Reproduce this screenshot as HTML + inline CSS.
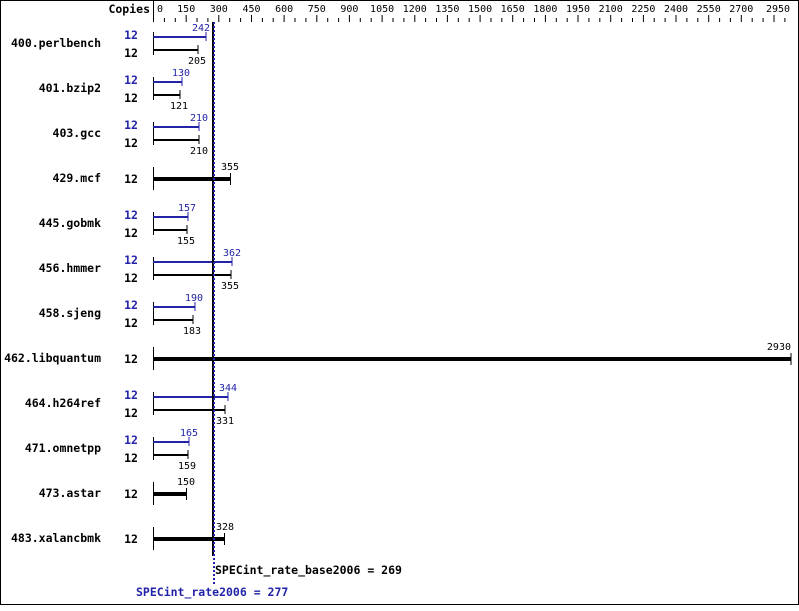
<!DOCTYPE html>
<html><head><meta charset="utf-8"><style>
html,body{margin:0;padding:0;background:#fff}
svg text{font-family:"DejaVu Sans Mono","Liberation Mono",monospace}
.n{font-size:11.5px;font-weight:bold;text-anchor:end}
.c{font-size:11.5px;font-weight:bold;text-anchor:middle}
.v{font-size:10px;text-anchor:middle}
.t{font-size:10px;text-anchor:middle}
.b{fill:#2323a8;stroke:none}
</style></head><body>
<svg width="799" height="606" xmlns="http://www.w3.org/2000/svg">
<rect x="0.5" y="0.5" width="798" height="604" fill="#fff" stroke="#000"/>
<text x="150" y="13" class="n">Copies</text>
<line x1="153.5" y1="0" x2="153.5" y2="22" stroke="#000"/>
<g stroke="#000">
<path d="M164.4 18V22M175.3 18V22M186.2 15V22M197.0 18V22M207.9 18V22M218.8 15V22M229.7 18V22M240.6 18V22M251.5 15V22M262.4 18V22M273.2 18V22M284.1 15V22M295.0 18V22M305.9 18V22M316.8 15V22M327.7 18V22M338.6 18V22M349.4 15V22M360.3 18V22M371.2 18V22M382.1 15V22M393.0 18V22M403.9 18V22M414.8 15V22M425.6 18V22M436.5 18V22M447.4 15V22M458.3 18V22M469.2 18V22M480.1 15V22M491.0 18V22M501.8 18V22M512.7 15V22M523.6 18V22M534.5 18V22M545.4 15V22M556.3 18V22M567.2 18V22M578.0 15V22M588.9 18V22M599.8 18V22M610.7 15V22M621.6 18V22M632.5 18V22M643.4 15V22M654.2 18V22M665.1 18V22M676.0 15V22M686.9 18V22M697.8 18V22M708.7 15V22M719.6 18V22M730.4 18V22M741.3 15V22M752.2 18V22M763.1 18V22M774.0 15V22M784.9 18V22"/>
</g>
<g class="t">
<text x="157" y="12" style="text-anchor:start">0</text>
<text x="186.2" y="12">150</text><text x="218.8" y="12">300</text><text x="251.5" y="12">450</text>
<text x="284.1" y="12">600</text><text x="316.8" y="12">750</text><text x="349.4" y="12">900</text>
<text x="382.1" y="12">1050</text><text x="414.8" y="12">1200</text><text x="447.4" y="12">1350</text>
<text x="480.1" y="12">1500</text><text x="512.7" y="12">1650</text><text x="545.4" y="12">1800</text>
<text x="578.0" y="12">1950</text><text x="610.7" y="12">2100</text><text x="643.4" y="12">2250</text>
<text x="676.0" y="12">2400</text><text x="708.7" y="12">2550</text><text x="741.3" y="12">2700</text>
<text x="778" y="12">2950</text>
</g>

<!-- rows -->
<g>
<!-- 400 -->
<text x="101" y="47" class="n">400.perlbench</text>
<line x1="153.5" y1="32" x2="153.5" y2="55" stroke="#000"/>
<text x="131" y="39" class="c" fill="#2323a8">12</text><text x="131" y="57" class="c">12</text>
<rect x="153" y="36" width="53" height="2" class="b"/><rect x="205.5" y="32" width="1" height="9" class="b"/>
<rect x="153" y="49" width="45" height="2"/><rect x="197.5" y="45" width="1" height="9"/>
<text x="201" y="31" class="v" fill="#2323a8">242</text><text x="197" y="64" class="v">205</text>
<!-- 401 -->
<text x="101" y="92" class="n">401.bzip2</text>
<line x1="153.5" y1="77" x2="153.5" y2="100" stroke="#000"/>
<text x="131" y="84" class="c" fill="#2323a8">12</text><text x="131" y="102" class="c">12</text>
<rect x="153" y="81" width="29" height="2" class="b"/><rect x="181.5" y="77" width="1" height="9" class="b"/>
<rect x="153" y="94" width="27" height="2"/><rect x="179.5" y="90" width="1" height="9"/>
<text x="181" y="76" class="v" fill="#2323a8">130</text><text x="179" y="109" class="v">121</text>
<!-- 403 -->
<text x="101" y="137" class="n">403.gcc</text>
<line x1="153.5" y1="122" x2="153.5" y2="145" stroke="#000"/>
<text x="131" y="129" class="c" fill="#2323a8">12</text><text x="131" y="147" class="c">12</text>
<rect x="153" y="126" width="46" height="2" class="b"/><rect x="198.5" y="122" width="1" height="9" class="b"/>
<rect x="153" y="139" width="46" height="2"/><rect x="198.5" y="135" width="1" height="9"/>
<text x="199" y="121" class="v" fill="#2323a8">210</text><text x="199" y="154" class="v">210</text>
<!-- 429 -->
<text x="101" y="182" class="n">429.mcf</text>
<line x1="153.5" y1="167" x2="153.5" y2="190" stroke="#000"/>
<text x="131" y="183" class="c">12</text>
<rect x="153" y="177" width="77" height="4"/><rect x="230" y="173" width="1" height="12"/>
<text x="230" y="170" class="v">355</text>
<!-- 445 -->
<text x="101" y="227" class="n">445.gobmk</text>
<line x1="153.5" y1="212" x2="153.5" y2="235" stroke="#000"/>
<text x="131" y="219" class="c" fill="#2323a8">12</text><text x="131" y="237" class="c">12</text>
<rect x="153" y="216" width="35" height="2" class="b"/><rect x="187.5" y="212" width="1" height="9" class="b"/>
<rect x="153" y="229" width="34" height="2"/><rect x="186.5" y="225" width="1" height="9"/>
<text x="187" y="211" class="v" fill="#2323a8">157</text><text x="186" y="244" class="v">155</text>
<!-- 456 -->
<text x="101" y="272" class="n">456.hmmer</text>
<line x1="153.5" y1="257" x2="153.5" y2="280" stroke="#000"/>
<text x="131" y="264" class="c" fill="#2323a8">12</text><text x="131" y="282" class="c">12</text>
<rect x="153" y="261" width="79" height="2" class="b"/><rect x="231.5" y="257" width="1" height="9" class="b"/>
<rect x="153" y="274" width="78" height="2"/><rect x="230.5" y="270" width="1" height="9"/>
<text x="232" y="256" class="v" fill="#2323a8">362</text><text x="230" y="289" class="v">355</text>
<!-- 458 -->
<text x="101" y="317" class="n">458.sjeng</text>
<line x1="153.5" y1="302" x2="153.5" y2="325" stroke="#000"/>
<text x="131" y="309" class="c" fill="#2323a8">12</text><text x="131" y="327" class="c">12</text>
<rect x="153" y="306" width="42" height="2" class="b"/><rect x="194.5" y="302" width="1" height="9" class="b"/>
<rect x="153" y="319" width="40" height="2"/><rect x="192.5" y="315" width="1" height="9"/>
<text x="194" y="301" class="v" fill="#2323a8">190</text><text x="192" y="334" class="v">183</text>
<!-- 462 -->
<text x="101" y="362" class="n">462.libquantum</text>
<line x1="153.5" y1="347" x2="153.5" y2="370" stroke="#000"/>
<text x="131" y="363" class="c">12</text>
<rect x="153" y="357" width="638" height="4"/><rect x="790.5" y="353" width="1" height="12"/>
<text x="791" y="350" class="v" style="text-anchor:end">2930</text>
<!-- 464 -->
<text x="101" y="407" class="n">464.h264ref</text>
<line x1="153.5" y1="392" x2="153.5" y2="415" stroke="#000"/>
<text x="131" y="399" class="c" fill="#2323a8">12</text><text x="131" y="417" class="c">12</text>
<rect x="153" y="396" width="75" height="2" class="b"/><rect x="227.5" y="392" width="1" height="9" class="b"/>
<rect x="153" y="409" width="72" height="2"/><rect x="224.5" y="405" width="1" height="9"/>
<text x="228" y="391" class="v" fill="#2323a8">344</text><text x="225" y="424" class="v">331</text>
<!-- 471 -->
<text x="101" y="452" class="n">471.omnetpp</text>
<line x1="153.5" y1="437" x2="153.5" y2="460" stroke="#000"/>
<text x="131" y="444" class="c" fill="#2323a8">12</text><text x="131" y="462" class="c">12</text>
<rect x="153" y="441" width="36" height="2" class="b"/><rect x="188.5" y="437" width="1" height="9" class="b"/>
<rect x="153" y="454" width="35" height="2"/><rect x="187.5" y="450" width="1" height="9"/>
<text x="189" y="436" class="v" fill="#2323a8">165</text><text x="187" y="469" class="v">159</text>
<!-- 473 -->
<text x="101" y="497" class="n">473.astar</text>
<line x1="153.5" y1="482" x2="153.5" y2="505" stroke="#000"/>
<text x="131" y="498" class="c">12</text>
<rect x="153" y="492" width="33" height="4"/><rect x="186" y="488" width="1" height="12"/>
<text x="186" y="485" class="v">150</text>
<!-- 483 -->
<text x="101" y="542" class="n">483.xalancbmk</text>
<line x1="153.5" y1="527" x2="153.5" y2="550" stroke="#000"/>
<text x="131" y="543" class="c">12</text>
<rect x="153" y="537" width="72" height="4"/><rect x="224" y="533" width="1" height="12"/>
<text x="225" y="530" class="v">328</text>
</g>

<rect x="212" y="22" width="2" height="534" fill="#000"/>
<line x1="214" y1="22" x2="214" y2="586" stroke="#2323a8" stroke-width="2" stroke-dasharray="2,2"/>
<text x="215" y="574" style="font-size:11.5px;font-weight:bold">SPECint_rate_base2006 = 269</text>
<text x="136" y="596" style="font-size:11.5px;font-weight:bold" fill="#2323a8">SPECint_rate2006 = 277</text>
</svg>
</body></html>
